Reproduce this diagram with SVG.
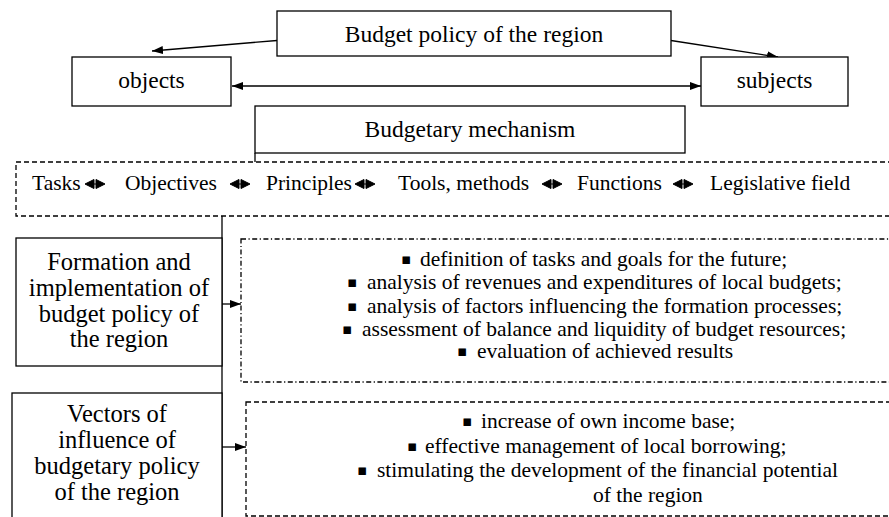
<svg xmlns="http://www.w3.org/2000/svg" width="889" height="517" viewBox="0 0 889 517" font-family="'Liberation Serif', Tinos, 'Times New Roman', 'DejaVu Serif', serif">
<defs>
<style>
.box{fill:#fff;stroke:#000;stroke-width:1.3}
.dash{fill:none;stroke:#000;stroke-width:1.3;stroke-dasharray:5,3}
.dashdot{fill:none;stroke:#000;stroke-width:1.3;stroke-dasharray:5,2.5,1.2,2.5}
.ln{fill:none;stroke:#000;stroke-width:1.3}
text{font-family:'Liberation Serif', Tinos, 'Times New Roman', 'DejaVu Serif', serif;fill:#000}
.big{font-size:23.5px}
.side{font-size:24.5px}
.mid{font-size:21.5px}
.c{text-anchor:middle}
.bul{font-family:'DejaVu Sans', sans-serif;font-size:15px}
</style>
<marker id="ah" viewBox="0 0 11 8" refX="11" refY="4" markerWidth="11" markerHeight="8" markerUnits="userSpaceOnUse" orient="auto-start-reverse">
<path d="M0,0 L11,4 L0,8 Z" fill="#000"/>
</marker>
<path id="dbl" d="M0,0 L9,-4.5 L9,4.5 Z M20,0 L11,-4.5 L11,4.5 Z M8,0 H12" fill="#000" stroke="#000" stroke-width="1"/>
</defs>

<g id="connectors">
<line class="ln" x1="277" y1="40.5" x2="152" y2="51" marker-end="url(#ah)"/>
<line class="ln" x1="671" y1="40.5" x2="778" y2="57" marker-end="url(#ah)"/>
<line class="ln" x1="232" y1="86" x2="701" y2="86" marker-start="url(#ah)" marker-end="url(#ah)"/>
<line class="ln" x1="255" y1="153" x2="255" y2="162"/>
<line class="ln" x1="222" y1="216" x2="222" y2="517"/>
<line class="ln" x1="222" y1="304" x2="241" y2="304" marker-end="url(#ah)"/>
<line class="ln" x1="222" y1="447" x2="246" y2="447" marker-end="url(#ah)"/>
</g>

<g id="budget-policy">
<rect class="box" x="277" y="11" width="394" height="45"/>
<text class="big c" x="474" y="42">Budget policy of the region</text>
</g>

<g id="objects">
<rect class="box" x="72" y="57" width="159" height="49"/>
<text class="big c" x="151.5" y="88">objects</text>
</g>

<g id="subjects">
<rect class="box" x="701" y="57" width="147" height="49"/>
<text class="big c" x="774.5" y="88">subjects</text>
</g>

<g id="budgetary-mechanism">
<rect class="box" x="255" y="106" width="430" height="47"/>
<text class="big c" x="470" y="137">Budgetary mechanism</text>
</g>

<g id="elements">
<rect class="dash" x="16" y="162" width="890" height="54"/>
<text class="mid" y="190"><tspan x="32">Tasks</tspan><tspan x="125">Objectives</tspan><tspan x="266">Principles</tspan><tspan x="398">Tools, methods</tspan><tspan x="577">Functions</tspan><tspan x="710">Legislative field</tspan></text>
<use href="#dbl" x="85" y="184"/>
<use href="#dbl" x="230" y="184"/>
<use href="#dbl" x="355" y="184"/>
<use href="#dbl" x="542" y="184"/>
<use href="#dbl" x="673" y="184"/>
</g>

<g id="formation">
<rect class="box" x="16" y="238" width="206" height="128"/>
<text class="side c" x="119"><tspan x="119" y="270">Formation and</tspan><tspan x="119" y="296">implementation of</tspan><tspan x="119" y="322">budget policy of</tspan><tspan x="119" y="347">the region</tspan></text>
</g>

<g id="formation-list">
<rect class="dashdot" x="241" y="239" width="660" height="143"/>
<text class="mid" y="266"><tspan class="bul" x="401" dy="-2.5">▪</tspan><tspan x="420" dy="2.5">definition of tasks and goals for the future;</tspan></text>
<text class="mid" y="289"><tspan class="bul" x="347" dy="-2.5">▪</tspan><tspan x="367" dy="2.5">analysis of revenues and expenditures of local budgets;</tspan></text>
<text class="mid" y="313"><tspan class="bul" x="347" dy="-2.5">▪</tspan><tspan x="367" dy="2.5">analysis of factors influencing the formation processes;</tspan></text>
<text class="mid" y="336"><tspan class="bul" x="342" dy="-2.5">▪</tspan><tspan x="362" dy="2.5">assessment of balance and liquidity of budget resources;</tspan></text>
<text class="mid" y="358"><tspan class="bul" x="457" dy="-2.5">▪</tspan><tspan x="477" dy="2.5">evaluation of achieved results</tspan></text>
</g>

<g id="vectors">
<rect class="box" x="12" y="393" width="210" height="140"/>
<text class="side c"><tspan x="117" y="422">Vectors of</tspan><tspan x="117" y="448">influence of</tspan><tspan x="117" y="474">budgetary policy</tspan><tspan x="117" y="500">of the region</tspan></text>
</g>

<g id="vectors-list">
<rect class="dash" x="246" y="402" width="660" height="114"/>
<text class="mid" y="428"><tspan class="bul" x="462" dy="-2.5">▪</tspan><tspan x="481" dy="2.5">increase of own income base;</tspan></text>
<text class="mid" y="453"><tspan class="bul" x="407" dy="-2.5">▪</tspan><tspan x="425" dy="2.5">effective management of local borrowing;</tspan></text>
<text class="mid" y="477"><tspan class="bul" x="357" dy="-2.5">▪</tspan><tspan x="377" dy="2.5">stimulating the development of the financial potential</tspan></text>
<text class="mid" x="593" y="502">of the region</text>
</g>
</svg>
